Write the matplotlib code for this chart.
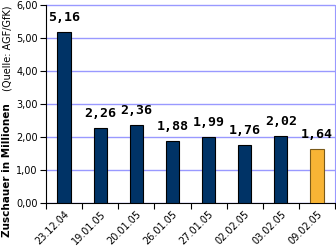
import matplotlib
matplotlib.use("Agg")
import matplotlib.pyplot as plt
import numpy as np

categories = ["23.12.04", "19.01.05", "20.01.05", "26.01.05", "27.01.05", "02.02.05", "03.02.05", "09.02.05"]
values = [5.16, 2.26, 2.36, 1.88, 1.99, 1.76, 2.02, 1.64]
labels = ["5,16", "2,26", "2,36", "1,88", "1,99", "1,76", "2,02", "1,64"]
colors = ["#003366"] * 7 + ["#F8B435"]
edges = ["#000000"] * 7 + ["#7A5A1A"]
yticks = [0, 1, 2, 3, 4, 5, 6]
yticklabels = ["0,00", "1,00", "2,00", "3,00", "4,00", "5,00", "6,00"]

fig = plt.figure(figsize=(3.36, 2.47), dpi=100)
ax = fig.add_axes([46/336, 1 - 203/247, (335 - 46)/336, (203 - 4.5)/247])

x = np.arange(len(categories))
ax.bar(x, values, width=0.37, color=colors, edgecolor=edges, linewidth=0.8, zorder=3)
for xi, v, lab in zip(x, values, labels):
    ax.text(xi, v + 0.24, lab, ha="center", va="bottom", fontsize=9.5,
            fontweight="bold", family="DejaVu Sans Mono", zorder=4)

ax.set_xlim(-0.5, len(categories) - 0.5)
ax.set_ylim(0, 6)
ax.set_yticks(yticks)
ax.set_yticklabels(yticklabels, fontsize=7)
ax.yaxis.grid(True, color="#9999FF", linewidth=1, zorder=0)
ax.set_xticks(x)
ax.set_xticklabels(categories, rotation=45, ha="right", rotation_mode="anchor", fontsize=7)
ax.set_xticks(np.arange(-0.5, len(categories)), minor=True)
ax.tick_params(axis="x", which="major", length=0, pad=4)
ax.tick_params(axis="x", which="minor", length=4, direction="out", width=0.8)
ax.tick_params(axis="y", length=4, direction="out", width=0.8, pad=2)
ax.spines["top"].set_visible(False)
ax.spines["right"].set_color("#9999FF")
ax.spines["left"].set_linewidth(0.8)
ax.spines["bottom"].set_linewidth(0.8)

fig.text(7/336, 1 - 170/247, "Zuschauer in Millionen", rotation=90, ha="center", va="center",
         fontsize=7.5, fontweight="bold")
fig.text(8/336, 1 - 48/247, "(Quelle: AGF/GfK)", rotation=90, ha="center", va="center",
         fontsize=7)

fig.savefig("out.png", dpi=100)
